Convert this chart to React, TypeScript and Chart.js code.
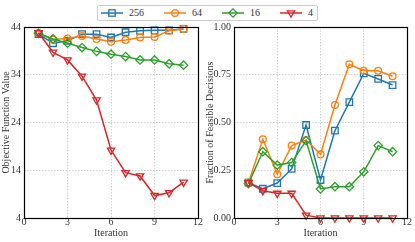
import React, { useEffect, useRef } from 'react';
import { Chart, registerables } from 'chart.js';
Chart.register(...registerables);

const iterations = [1, 2, 3, 4, 5, 6, 7, 8, 9, 10, 11];
const seriesLabels = ['256', '64', '16', '4'];
const seriesColors = ['#1f77b4', '#ff7f0e', '#2ca02c', '#d62728'];
const objective256 = [42.5, 40.6, 41.1, 42.5, 42.5, 41.8, 42.9, 43.2, 43.3, 43.3, 43.6];
const objective64 = [42.7, 41.4, 41.6, 42.1, 41.5, 40.9, 41.3, 41.8, 41.9, 43.2, 43.6];
const objective16 = [42.7, 41.5, 40.6, 39.7, 38.9, 38.3, 37.8, 37.1, 37.1, 36.3, 36.0];
const objective4 = [42.8, 38.7, 37.1, 33.7, 28.7, 18.2, 13.5, 12.8, 8.7, 9.3, 11.5];
const feasible256 = [0.185, 0.153, 0.183, 0.257, 0.487, 0.199, 0.457, 0.607, 0.757, 0.728, 0.696];
const feasible64 = [0.185, 0.412, 0.229, 0.379, 0.408, 0.333, 0.592, 0.805, 0.771, 0.771, 0.742];
const feasible16 = [0.18, 0.347, 0.277, 0.29, 0.405, 0.152, 0.164, 0.164, 0.242, 0.379, 0.347];
const feasible4 = [0.185, 0.143, 0.129, 0.129, 0.015, 0, 0, 0, 0, 0, 0];
const xTicks = [0, 3, 6, 9, 12];
const objectiveTicks = [4, 14, 24, 34, 44];
const feasibleTicks = [0, 0.25, 0.5, 0.75, 1];

const FONT = "'Liberation Serif', 'DejaVu Serif', serif";
const TEXT = '#333';

const markerStyles: any[] = [
  { pointStyle: 'rect', pointRadius: 4.6, rotation: 0 },
  { pointStyle: 'circle', pointRadius: 3.4, rotation: 0 },
  { pointStyle: 'rectRot', pointRadius: 4.2, rotation: 0 },
  { pointStyle: 'triangle', pointRadius: 4.2, rotation: 180 },
];

const framePlugin = {
  id: 'frame',
  afterDraw(chart: any) {
    const { ctx, chartArea: a } = chart;
    ctx.save();
    ctx.strokeStyle = '#000';
    ctx.lineWidth = 1.2;
    ctx.strokeRect(Math.round(a.left) + 0.5, Math.round(a.top) + 0.5, Math.round(a.right - a.left), Math.round(a.bottom - a.top));
    ctx.restore();
  },
};

function makeDatasets(values: number[][]) {
  return values.map((vals, i) => ({
    label: seriesLabels[i],
    data: iterations.map((it, j) => ({ x: it, y: vals[j] })),
    borderColor: seriesColors[i],
    backgroundColor: seriesColors[i],
    borderWidth: 1.5,
    pointBorderColor: seriesColors[i],
    pointBackgroundColor: 'rgba(0,0,0,0)',
    pointBorderWidth: 1.3,
    pointStyle: markerStyles[i].pointStyle,
    pointRadius: markerStyles[i].pointRadius,
    pointRotation: markerStyles[i].rotation,
    order: 3 - i,
    clip: false,
    tension: 0,
  }));
}

function ChartPanel(props: {
  left: number; width: number; values: number[][]; yMin: number; yMax: number; yTicks: number[];
  yTitle: string; yAxisWidth: number; padRight: number; fmt: (v: number) => string;
}) {
  const ref = useRef<HTMLCanvasElement>(null);
  useEffect(() => {
    const tickFont = { family: FONT, size: 10 };
    const chart = new Chart(ref.current as HTMLCanvasElement, {
      type: 'line',
      data: { datasets: makeDatasets(props.values) as any },
      options: {
        responsive: false,
        animation: false,
        layout: { padding: { top: 27, right: props.padRight, left: 0, bottom: 0 } },
        plugins: { legend: { display: false }, tooltip: { enabled: false } },
        scales: {
          x: {
            type: 'linear', min: 0, max: 12,
            afterBuildTicks: (s: any) => { s.ticks = xTicks.map((v) => ({ value: v })); },
            afterFit: (s: any) => { s.height = 24; },
            ticks: { font: tickFont, color: TEXT, padding: -2, maxRotation: 0 },
            grid: { color: '#c8c8c8', lineWidth: 0.8, drawTicks: false },
            border: { display: false, dash: [1.5, 1.5] },
            title: { display: true, text: 'Iteration', font: tickFont, color: TEXT, padding: { top: 0, bottom: 2.5 } },
          },
          y: {
            type: 'linear', min: props.yMin, max: props.yMax,
            afterBuildTicks: (s: any) => { s.ticks = props.yTicks.map((v) => ({ value: v })); },
            afterFit: (s: any) => { s.width = props.yAxisWidth; },
            ticks: { font: tickFont, color: TEXT, padding: 3, callback: (v: any) => props.fmt(Number(v)) },
            grid: { color: '#c8c8c8', lineWidth: 0.8, drawTicks: false },
            border: { display: false, dash: [1.5, 1.5] },
            title: { display: true, text: props.yTitle, font: tickFont, color: TEXT, padding: { top: 0, bottom: 0 } },
          },
        },
      } as any,
      plugins: [framePlugin],
    });
    return () => chart.destroy();
  }, []);
  return (
    <canvas ref={ref} width={props.width} height={242}
      style={{ position: 'absolute', left: props.left, top: 0, width: props.width, height: 242 }} />
  );
}

function LegendMarker(props: { i: number }) {
  const c = seriesColors[props.i];
  const cx = 11, cy = 5;
  let m: any = null;
  if (props.i === 0) m = <rect x={cx - 3.2} y={cy - 3.2} width={6.4} height={6.4} fill="none" stroke={c} strokeWidth={1.3} />;
  if (props.i === 1) m = <circle cx={cx} cy={cy} r={3.4} fill="none" stroke={c} strokeWidth={1.3} />;
  if (props.i === 2) m = <polygon points={`${cx - 4.2},${cy} ${cx},${cy - 4.2} ${cx + 4.2},${cy} ${cx},${cy + 4.2}`} fill="none" stroke={c} strokeWidth={1.3} />;
  if (props.i === 3) m = <polygon points={`${cx - 3.6},${cy - 2.1} ${cx + 3.6},${cy - 2.1} ${cx},${cy + 4.2}`} fill="none" stroke={c} strokeWidth={1.3} />;
  return (
    <svg width={22} height={10} style={{ display: 'block', overflow: 'visible' }}>
      <line x1={0} y1={cy} x2={22} y2={cy} stroke={c} strokeWidth={1.5} />
      {m}
    </svg>
  );
}

function Legend() {
  return (
    <div style={{
      position: 'absolute', left: 97, top: 5, width: 221, height: 16, boxSizing: 'border-box',
      border: '1px solid #cccccc', borderRadius: 2, background: '#fff', display: 'flex', alignItems: 'center',
      paddingLeft: 3, gap: 20, fontFamily: FONT, fontSize: 10, color: TEXT, zIndex: 2,
    }}>
      {seriesLabels.map((lab, i) => (
        <div key={lab} style={{ display: 'flex', alignItems: 'center' }}>
          <LegendMarker i={i} />
          <span style={{ marginLeft: 6, lineHeight: '10px' }}>{lab}</span>
        </div>
      ))}
    </div>
  );
}

export default function App() {
  return (
    <div style={{ position: 'fixed', left: 0, top: 0, width: 415, height: 242, background: '#fff' }}>
      <ChartPanel left={0} width={204} values={[objective256, objective64, objective16, objective4]}
        yMin={4} yMax={44} yTicks={objectiveTicks} yTitle="Objective Function Value" yAxisWidth={24}
        padRight={5} fmt={(v) => String(v)} />
      <ChartPanel left={204} width={211} values={[feasible256, feasible64, feasible16, feasible4]}
        yMin={0} yMax={1} yTicks={feasibleTicks} yTitle="Fraction of Feasible Decisions" yAxisWidth={30}
        padRight={8} fmt={(v) => v.toFixed(2)} />
      <Legend />
    </div>
  );
}
